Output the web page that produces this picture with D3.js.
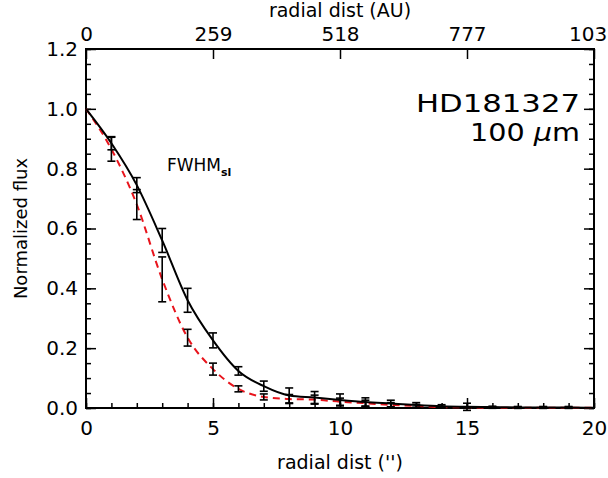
<!DOCTYPE html>
<html>
<head>
<meta charset="utf-8">
<script src="https://cdn.jsdelivr.net/npm/d3@7"></script>
<style>
  body { margin: 0; background: #fff; }
  svg { display: block; }
  text { font-family: "DejaVu Sans", sans-serif; fill: #000; }
</style>
</head>
<body>
<div id="chart"></div>
<script>
// radial distance in arcsec
const radius = [0, 1, 2, 3, 4, 5, 6, 7, 8, 9, 10, 11, 12, 13, 14, 15, 16, 17, 18, 19, 20];
// observed profile (black, solid)
const obsFlux = [1.0, 0.885, 0.745, 0.56, 0.36, 0.226, 0.124, 0.073, 0.042, 0.035, 0.027, 0.02, 0.015, 0.01, 0.006, 0.004, 0.003, 0.002, 0.002, 0.002, 0.001];
const obsErr  = [0, 0.022, 0.025, 0.04, 0.04, 0.025, 0.014, 0.017, 0.025, 0.02, 0.02, 0.014, 0.011, 0.008, 0.005, 0.012, 0.003, 0.003, 0.003, 0.003, 0];
// reference star / PSF profile (red, dashed)
const psfFlux = [1.0, 0.865, 0.68, 0.43, 0.235, 0.13, 0.064, 0.037, 0.03, 0.028, 0.021, 0.016, 0.01, 0.007, 0.003, 0.002, 0.001, 0.001, 0.001, 0.001, 0.001];
const psfErr  = [0, 0.04, 0.05, 0.075, 0.028, 0.02, 0.01, 0.01, 0.015, 0.015, 0.012, 0.01, 0.008, 0.005, 0.003, 0.002, 0.002, 0.002, 0.002, 0.002, 0];
const xTicks = [0, 5, 10, 15, 20];
const yTicks = [0, 0.2, 0.4, 0.6, 0.8, 1.0, 1.2];
const auTicks = ["0", "259", "518", "777", "1036"];

const width = 608, height = 478;
const margin = { top: 49, right: 14, bottom: 70, left: 86 };

const svg = d3.select("#chart").append("svg")
    .attr("width", width)
    .attr("height", height);

const x = d3.scaleLinear().domain([0, 20]).range([margin.left, width - margin.right]);
const y = d3.scaleLinear().domain([0, 1.2]).range([height - margin.bottom, margin.top]);

// frame
svg.append("rect")
    .attr("x", x(0)).attr("y", y(1.2))
    .attr("width", x(20) - x(0)).attr("height", y(0) - y(1.2))
    .attr("fill", "none").attr("stroke", "#000").attr("stroke-width", 2);

// axes
const tickStyle = g => {
    g.select(".domain").remove();
    g.selectAll("line").attr("stroke", "#000").attr("stroke-width", 1.5);
    g.selectAll("text").style("font-size", "20px").attr("fill", "#000");
};

svg.append("g")
    .attr("transform", `translate(0, ${y(0)})`)
    .call(d3.axisBottom(x).tickValues(d3.range(0, 21)).tickSizeInner(-5).tickSizeOuter(0).tickFormat(""))
    .call(tickStyle);
svg.append("g")
    .attr("transform", `translate(0, ${y(0)})`)
    .call(d3.axisBottom(x).tickValues(xTicks).tickSizeInner(-10).tickSizeOuter(0).tickPadding(13).tickFormat(d3.format("d")))
    .call(tickStyle);

svg.append("g")
    .attr("transform", `translate(0, ${y(1.2)})`)
    .call(d3.axisTop(x).tickValues(xTicks).tickSizeInner(-10).tickSizeOuter(0).tickPadding(8)
        .tickFormat((d, i) => auTicks[i]))
    .call(tickStyle);

svg.append("g")
    .attr("transform", `translate(${x(0)}, 0)`)
    .call(d3.axisLeft(y).tickValues(d3.range(0, 1.2001, 0.05)).tickSizeInner(-5).tickSizeOuter(0).tickFormat(""))
    .call(tickStyle);
svg.append("g")
    .attr("transform", `translate(${x(0)}, 0)`)
    .call(d3.axisLeft(y).tickValues(yTicks).tickSizeInner(-10).tickSizeOuter(0).tickPadding(8).tickFormat(d3.format(".1f")))
    .call(tickStyle);

svg.append("g")
    .attr("transform", `translate(${x(20)}, 0)`)
    .call(d3.axisRight(y).tickValues(d3.range(0, 1.2001, 0.05)).tickSizeInner(-5).tickSizeOuter(0).tickFormat(""))
    .call(tickStyle);
svg.append("g")
    .attr("transform", `translate(${x(20)}, 0)`)
    .call(d3.axisRight(y).tickValues(yTicks).tickSizeInner(-10).tickSizeOuter(0).tickFormat(""))
    .call(tickStyle);

// axis titles
svg.append("text")
    .attr("x", (x(0) + x(20)) / 2).attr("y", 17)
    .attr("text-anchor", "middle")
    .style("font-size", "19px")
    .text("radial dist (AU)");
svg.append("text")
    .attr("x", (x(0) + x(20)) / 2).attr("y", 469)
    .attr("text-anchor", "middle")
    .style("font-size", "19px")
    .text("radial dist ('')");
svg.append("text")
    .attr("transform", `translate(27, ${(y(0) + y(1.2)) / 2}) rotate(-90)`)
    .attr("text-anchor", "middle")
    .style("font-size", "18px")
    .text("Normalized flux");

// profiles
const line = (vals) => d3.line()
    .x((d, i) => x(radius[i]))
    .y(d => y(d))
    .curve(d3.curveMonotoneX)(vals);

svg.append("path")
    .attr("d", line(psfFlux))
    .attr("fill", "none").attr("stroke", "#e8141c")
    .attr("stroke-width", 2).attr("stroke-dasharray", "7,5");

svg.append("path")
    .attr("d", line(obsFlux))
    .attr("fill", "none").attr("stroke", "#000")
    .attr("stroke-width", 2);

// error bars
function errorBars(vals, errs) {
    const pts = radius.map((r, i) => ({ r, v: vals[i], e: errs[i] })).filter(d => d.e > 0);
    const g = svg.append("g").attr("stroke", "#000").attr("stroke-width", 1.6);
    g.selectAll(".bar").data(pts).join("line")
        .attr("x1", d => x(d.r)).attr("x2", d => x(d.r))
        .attr("y1", d => y(d.v - d.e)).attr("y2", d => y(d.v + d.e));
    g.selectAll(".top").data(pts).join("line")
        .attr("x1", d => x(d.r) - 4).attr("x2", d => x(d.r) + 4)
        .attr("y1", d => y(d.v + d.e)).attr("y2", d => y(d.v + d.e));
    g.selectAll(".bot").data(pts).join("line")
        .attr("x1", d => x(d.r) - 4).attr("x2", d => x(d.r) + 4)
        .attr("y1", d => y(d.v - d.e)).attr("y2", d => y(d.v - d.e));
}
errorBars(psfFlux, psfErr);
errorBars(obsFlux, obsErr);

// labels
svg.append("text")
    .attr("x", 580).attr("y", 112)
    .attr("text-anchor", "end")
    .attr("textLength", 164).attr("lengthAdjust", "spacingAndGlyphs")
    .style("font-size", "24px")
    .text("HD181327");
const wl = svg.append("text")
    .attr("x", 580).attr("y", 141)
    .attr("text-anchor", "end")
    .attr("textLength", 110).attr("lengthAdjust", "spacingAndGlyphs")
    .style("font-size", "24px");
wl.append("tspan").text("100 ");
wl.append("tspan").style("font-style", "italic").text("μ");
wl.append("tspan").text("m");

const fw = svg.append("text")
    .attr("x", 167).attr("y", 171)
    .style("font-size", "17px");
fw.append("tspan").text("FWHM");
fw.append("tspan").attr("dy", 5).style("font-size", "11px").style("font-weight", "bold").text("sl");
</script>
</body>
</html>
